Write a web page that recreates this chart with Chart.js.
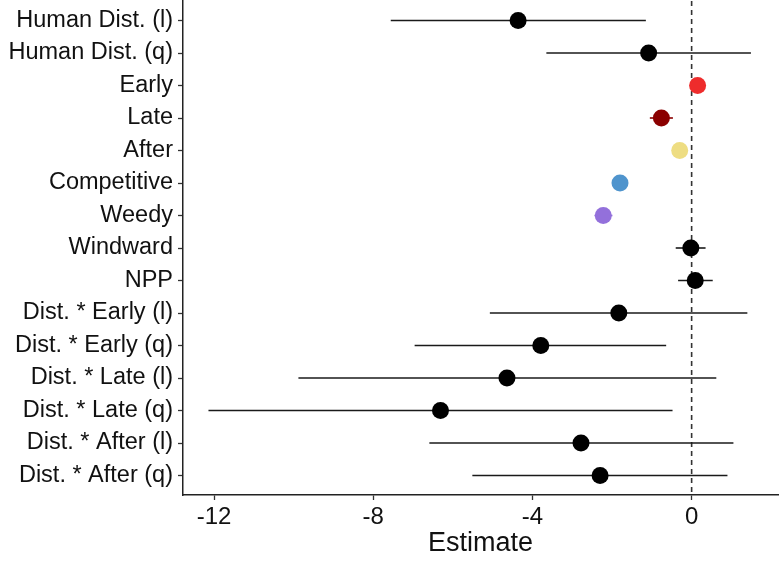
<!DOCTYPE html>
<html>
<head>
<meta charset="utf-8">
<script src="https://cdn.jsdelivr.net/npm/chart.js@4.4.1/dist/chart.umd.min.js"></script>
<style>
  html, body { margin: 0; padding: 0; background: #ffffff; }
  #wrap { width: 780px; height: 577px; }
</style>
</head>
<body>
<div id="wrap"><canvas id="c" width="780" height="577"></canvas></div>
<script>
const terms = [
  "Human Dist. (l)", "Human Dist. (q)", "Early", "Late", "After",
  "Competitive", "Weedy", "Windward", "NPP",
  "Dist. * Early (l)", "Dist. * Early (q)", "Dist. * Late (l)",
  "Dist. * Late (q)", "Dist. * After (l)", "Dist. * After (q)"
];
const estimates = [-4.36, -1.08, 0.15, -0.76, -0.30, -1.80, -2.22, -0.02, 0.09, -1.83, -3.79, -4.64, -6.31, -2.78, -2.30];
const lowerCI   = [-7.56, -3.65, 0.10, -1.05, -0.34, -1.84, -2.44, -0.40, -0.34, -5.07, -6.96, -9.88, -12.14, -6.59, -5.51];
const upperCI   = [-1.15, 1.49, 0.20, -0.47, -0.26, -1.76, -1.99, 0.35, 0.53, 1.40, -0.64, 0.62, -0.48, 1.05, 0.90];
const pointColors = ["#000000", "#000000", "#EE2C2C", "#8B0000", "#EEDD82", "#4F94CD", "#9370DB",
                     "#000000", "#000000", "#000000", "#000000", "#000000", "#000000", "#000000", "#000000"];
const xTickValues = [-12, -8, -4, 0];
const refLine = 0;

const FONT = "'Liberation Sans', Arial, Helvetica, sans-serif";

const datasets = [];
datasets.push({
  type: 'scatter',
  order: 0,
  data: estimates.map((v, i) => ({ x: v, y: i + 1 })),
  pointRadius: 8.5,
  pointHoverRadius: 8.5,
  pointBackgroundColor: pointColors,
  pointBorderWidth: 0,
  borderWidth: 0
});
terms.forEach((t, i) => {
  datasets.push({
    type: 'line',
    order: 1,
    data: [{ x: lowerCI[i], y: i + 1 }, { x: upperCI[i], y: i + 1 }],
    borderColor: pointColors[i] === "#000000" ? "#1a1a1a" : pointColors[i],
    borderWidth: 1.6,
    pointRadius: 0,
    fill: false,
    tension: 0
  });
});
datasets.push({
  type: 'line',
  order: 2,
  data: [{ x: refLine, y: 0.4 }, { x: refLine, y: 15.6 }],
  borderColor: "#333333",
  borderWidth: 1.6,
  borderDash: [5, 4],
  pointRadius: 0,
  fill: false
});

new Chart(document.getElementById('c'), {
  type: 'scatter',
  data: { datasets },
  options: {
    responsive: false,
    animation: false,
    devicePixelRatio: 1,
    layout: { autoPadding: false, padding: { top: 1, right: 2, bottom: 15, left: 0 } },
    plugins: { legend: { display: false }, tooltip: { enabled: false } },
    scales: {
      x: {
        type: 'linear',
        min: -12.78,
        max: 2.17,
        afterBuildTicks: (s) => { s.ticks = xTickValues.map(v => ({ value: v })); },
        afterFit: (s) => { s.height = 577 - 15 - 495; s.paddingLeft = 0; s.paddingRight = 0; },
        grid: { drawOnChartArea: false, drawTicks: true, tickLength: 5, tickColor: '#333333', tickWidth: 1.3 },
        border: { display: true, color: '#222222', width: 1.5 },
        ticks: { color: '#111111', font: { family: FONT, size: 24 }, padding: 3, maxRotation: 0 },
        title: { display: true, text: 'Estimate', color: '#111111', font: { family: FONT, size: 27 }, padding: { top: 0, bottom: 2 } }
      },
      y: {
        type: 'linear',
        reverse: true,
        min: 0.4,
        max: 15.6,
        afterBuildTicks: (s) => { s.ticks = terms.map((t, i) => ({ value: i + 1 })); },
        afterFit: (s) => { s.width = 183; s.paddingTop = 0; s.paddingBottom = 0; },
        grid: { drawOnChartArea: false, drawTicks: true, tickLength: 5, tickColor: '#333333', tickWidth: 1.3 },
        border: { display: true, color: '#222222', width: 1.5 },
        ticks: {
          color: '#111111',
          font: { family: FONT, size: 23.5 },
          padding: 5,
          autoSkip: false,
          callback: (v) => terms[Math.round(v) - 1]
        }
      }
    }
  }
});
</script>
</body>
</html>
